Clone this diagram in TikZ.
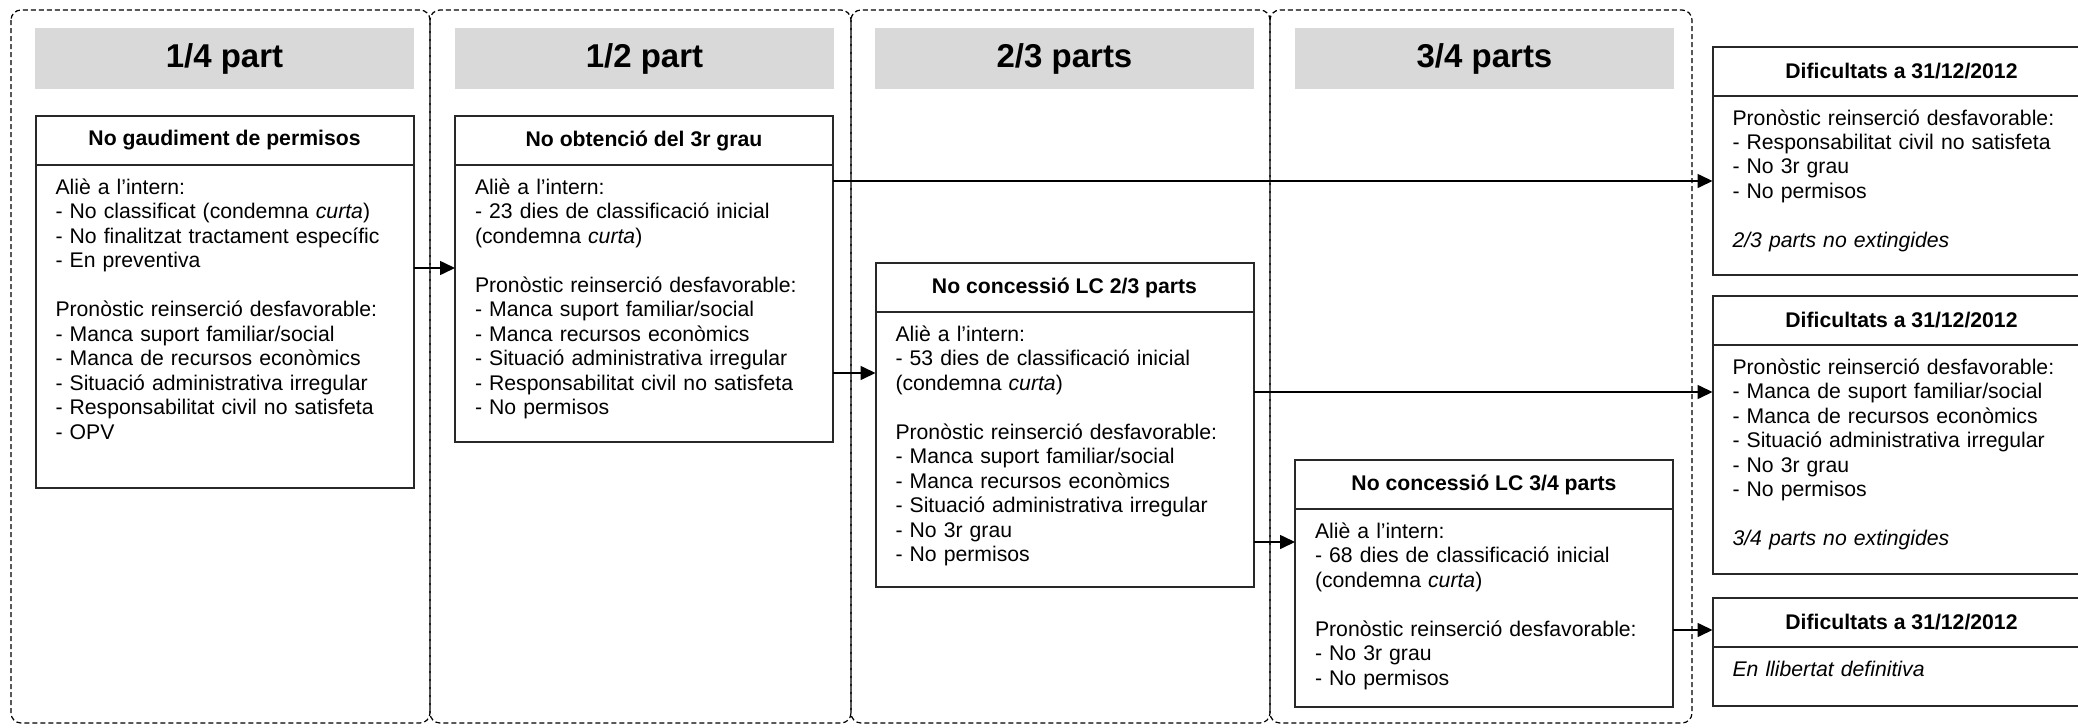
\documentclass[tikz,border=0pt]{standalone}
\usepackage{fontspec}
\setmainfont{Liberation Sans}
\definecolor{hdgray}{RGB}{217,217,217}
\definecolor{boxline}{RGB}{40,40,40}
\usetikzlibrary{arrows.meta,positioning}

\tikzset{
  colframe/.style={draw=black, line width=0.6pt, dash pattern=on 2.5pt off 1.5pt, rounded corners=5pt},
  phasehead/.style={fill=hdgray, minimum width=189.5pt, minimum height=30.5pt, inner sep=0pt,
    font=\fontsize{16.5}{19.8}\selectfont\bfseries},
  boxtitle/.style={draw=boxline, line width=1pt, outer sep=0pt, anchor=north, minimum width=189pt,
    minimum height=24.5pt, inner sep=0pt, font=\fontsize{10.6}{12.25}\selectfont\bfseries},
  boxbody/.style={draw=boxline, line width=1pt, outer sep=0pt, text width=169pt, inner xsep=10pt,
    inner ysep=0pt, align=left, text height=14.5pt, text depth=#1, font=\fontsize{10.6}{12.25}\selectfont},
  flow/.style={-{Triangle[length=7.5pt,width=7pt]}, line width=0.8pt}
}

\begin{document}
\begin{tikzpicture}[x=0.5pt, y=-0.5pt]
    \path[use as bounding box, clip] (0,0) rectangle (2078,728);

    % Dashed frames, one per phase
    \draw[colframe] (11,10) rectangle (430,723);
    \draw[colframe] (430,10) rectangle (851,723);
    \draw[colframe] (851,10) rectangle (1270,723);
    \draw[colframe] (1270,10) rectangle (1692,723);

    % Phase headers
    \node[phasehead] (head14) at (224.5,58.5) {1/4 part};
    \node[phasehead] (head12) at (644.5,58.5) {1/2 part};
    \node[phasehead] (head23) at (1064.5,58.5) {2/3 parts};
    \node[phasehead] (head34) at (1484.5,58.5) {3/4 parts};

    % 1/4 part
    \node[boxtitle] (permT) at (224.5,116) {No gaudiment de permisos};
    \node[boxbody=147pt, below=0pt of permT] (perm) {Aliè a l’intern:\\
      - No classificat (condemna \textit{curta})\\
      - No finalitzat tractament específic\\
      - En preventiva\\[12.25pt]
      Pronòstic reinserció desfavorable:\\
      - Manca suport familiar/social\\
      - Manca de recursos econòmics\\
      - Situació administrativa irregular\\
      - Responsabilitat civil no satisfeta\\
      - OPV};

    % 1/2 part
    \node[boxtitle] (grauT) at (644,116) {No obtenció del 3r grau};
    \node[boxbody=124pt, below=0pt of grauT] (grau) {Aliè a l’intern:\\
      - 23 dies de classificació inicial\\
      (condemna \textit{curta})\\[12.25pt]
      Pronòstic reinserció desfavorable:\\
      - Manca suport familiar/social\\
      - Manca recursos econòmics\\
      - Situació administrativa irregular\\
      - Responsabilitat civil no satisfeta\\
      - No permisos};

    % 2/3 parts
    \node[boxtitle] (lcaT) at (1064.5,263) {No concessió LC 2/3 parts};
    \node[boxbody=123pt, below=0pt of lcaT] (lca) {Aliè a l’intern:\\
      - 53 dies de classificació inicial\\
      (condemna \textit{curta})\\[12.25pt]
      Pronòstic reinserció desfavorable:\\
      - Manca suport familiar/social\\
      - Manca recursos econòmics\\
      - Situació administrativa irregular\\
      - No 3r grau\\
      - No permisos};

    % 3/4 parts
    \node[boxtitle] (lcbT) at (1484,460) {No concessió LC 3/4 parts};
    \node[boxbody=84.5pt, below=0pt of lcbT] (lcb) {Aliè a l’intern:\\
      - 68 dies de classificació inicial\\
      (condemna \textit{curta})\\[12.25pt]
      Pronòstic reinserció desfavorable:\\
      - No 3r grau\\
      - No permisos};

    % Situation at 31/12/2012
    \node[boxtitle] (difaT) at (1901.5,47) {Dificultats a 31/12/2012};
    \node[boxbody=75pt, below=0pt of difaT] (difa) {Pronòstic reinserció desfavorable:\\
      - Responsabilitat civil no satisfeta\\
      - No 3r grau\\
      - No permisos\\[12.25pt]
      \textit{2/3 parts no extingides}};

    \node[boxtitle] (difbT) at (1901.5,296) {Dificultats a 31/12/2012};
    \node[boxbody=100pt, below=0pt of difbT] (difb) {Pronòstic reinserció desfavorable:\\
      - Manca de suport familiar/social\\
      - Manca de recursos econòmics\\
      - Situació administrativa irregular\\
      - No 3r grau\\
      - No permisos\\[12.25pt]
      \textit{3/4 parts no extingides}};

    \node[boxtitle] (difcT) at (1901.5,598) {Dificultats a 31/12/2012};
    \node[boxbody=15pt, below=0pt of difcT] (difc) {\textit{En llibertat definitiva}};

    % Arrow heights
    \coordinate (y1) at (0,268);
    \coordinate (y2) at (0,373);
    \coordinate (y3) at (0,181);
    \coordinate (y4) at (0,392);
    \coordinate (y5) at (0,542);
    \coordinate (y6) at (0,630);

    % Arrows
    \draw[flow] (perm.east |- y1) -- (grau.west |- y1);
    \draw[flow] (grau.east |- y2) -- (lca.west |- y2);
    \draw[flow] (grau.east |- y3) -- (difa.west |- y3);
    \draw[flow] (lca.east |- y4) -- (difb.west |- y4);
    \draw[flow] (lca.east |- y5) -- (lcb.west |- y5);
    \draw[flow] (lcb.east |- y6) -- (difcT.west |- y6);
\end{tikzpicture}
\end{document}
